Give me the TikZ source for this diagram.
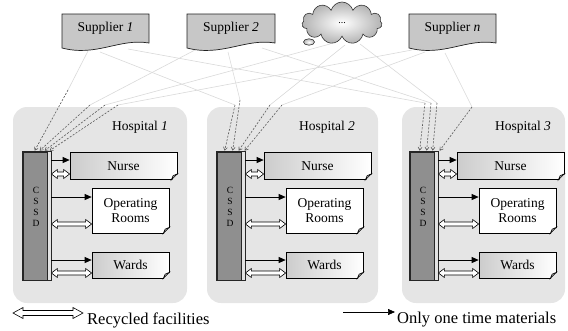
\documentclass[tikz,border=0pt]{standalone}
\usepackage{fontspec}
\setmainfont{Liberation Serif}
\usetikzlibrary{arrows.meta,calc,shapes.symbols}
\definecolor{panelgray}{gray}{0.90}
\definecolor{supgray}{gray}{0.78}
\definecolor{bargray}{gray}{0.56}
\newcommand\hollowarrow[5]{%
  \draw[line width=0.6pt,fill=white,line join=miter] (#1) -- ($(#1)+(#3,#4)$) -- ($(#1)+(#3,#5)$) -- ($(#2)+(-#3,#5)$) -- ($(#2)+(-#3,#4)$) -- (#2) -- ($(#2)+(-#3,-#4)$) -- ($(#2)+(-#3,-#5)$) -- ($(#1)+(#3,-#5)$) -- ($(#1)+(#3,-#4)$) -- cycle;}
\newcommand\foldcorner[1]{%
  \fill[panelgray] ($(#1.south east)+(0.8,0.8)$) -- ($(#1.south east)+(-6,0.8)$) -- ($(#1.south east)+(0.8,-6)$) -- cycle;
  \draw[line width=0.6pt,fill=gray!55] ($(#1.south east)+(-6,0)$) -- ($(#1.south east)+(0,-6)$) -- ($(#1.south east)+(-4.2,-4.2)$) -- cycle;}
\newcommand\supshape[2]{%
  \filldraw[fill=supgray,draw=gray!25!black,line width=0.7pt] (#1,14) -- (#2,14) -- (#2,43) .. controls (#2-30,38) and (#1+35,57) .. (#1,48) -- cycle;}
\begin{document}
\begin{tikzpicture}[x=1pt,y=-1pt,
  txt/.style={font=\fontsize{13.5}{15}\selectfont,inner sep=0},
  shadedbox/.style={draw=black,line width=0.7pt,left color=gray!40,right color=white,inner sep=0,font=\fontsize{13.5}{15}\selectfont},
  whitebox/.style={draw=black,line width=0.7pt,fill=white,inner sep=0,align=center,font=\fontsize{13.5}{15}\selectfont},
  barbox/.style={draw=black!85,line width=0.7pt,fill=bargray,minimum width=28,minimum height=128,inner sep=0},
  one/.style={line width=0.7pt,-{Triangle[length=7pt,width=6pt]}},
  feed/.style={gray!30,line width=0.6pt},
  feedend/.style={black!65,line width=0.6pt,dash pattern=on 2pt off 1.5pt,-{Straight Barb[length=3pt,width=4pt]}},
  legtxt/.style={anchor=west,font=\fontsize{16.5}{17}\selectfont,inner sep=0}
]
\useasboundingbox (0,0) rectangle (568,330);

% suppliers
\supshape{62}{149}
\supshape{187}{275}
\supshape{409}{496}
\node[txt] (s1) at (105.5,28) {Supplier \textit{1}};
\node[txt] (s2) at (231,28) {Supplier \textit{2}};
\node[txt] (sn) at (452.5,28) {Supplier \textit{n}};
\draw[gray!40!black,line width=0.6pt,inner color=white,outer color=gray!55] (309,42) ellipse (5.5 and 3.2);
\node[cloud,cloud puffs=11,aspect=2.0,draw=gray!40!black,line width=0.6pt,inner color=white,outer color=gray!60,minimum width=80,minimum height=42,inner sep=0,font=\fontsize{10}{10}\selectfont] (cl) at (342,23) {...};

% panels
\fill[panelgray,rounded corners=14] (13,107) rectangle (187,303);
\fill[panelgray,rounded corners=14] (207,107) rectangle (378,303);
\fill[panelgray,rounded corners=14] (402,107) rectangle (565,303);
\node[txt] (h1) at (140,127) {Hospital \textit{1}};
\node[txt] (h2) at (327,127) {Hospital \textit{2}};
\node[txt] (h3) at (523,127) {Hospital \textit{3}};

\foreach \i/\bx in {1/23,2/217,3/410}{
  \node[barbox] (c\i) at (\bx+14,216) {};
  \fill[gray!22] ($(c\i.north east)+(-4.5,0.4)$) rectangle ($(c\i.south east)+(-0.4,-0.4)$);
  \draw[black!85,line width=0.5pt] ($(c\i.north east)+(-4.5,0)$) -- ($(c\i.south east)+(-4.5,0)$);
  \draw[black!85,line width=0.7pt] (c\i.north west) rectangle (c\i.south east);
  \node[font=\fontsize{9.5}{11}\selectfont,align=center,inner sep=0] (ct\i) at (\bx+13,207) {C\\S\\S\\D};
  \node[shadedbox,minimum width=107,minimum height=27] (n\i) at (\bx+100.5,166) {Nurse};
  \node[whitebox,minimum width=77,minimum height=45] (o\i) at (\bx+107.5,210.5) {Operating\\Rooms};
  \node[shadedbox,minimum width=77,minimum height=26] (w\i) at (\bx+107.5,265) {Wards};
  \foldcorner{n\i}
  \foldcorner{o\i}
  \foldcorner{w\i}
  \draw[one] (c\i.east |- 0,160) -- (n\i.west |- 0,160);
  \draw[one] (c\i.east |- 0,197) -- (o\i.west |- 0,197);
  \draw[one] (c\i.east |- 0,260) -- (w\i.west |- 0,260);
  \coordinate (pa\i) at (c\i.east |- 0,174);
  \coordinate (pb\i) at (n\i.west |- 0,174);
  \coordinate (qa\i) at (c\i.east |- 0,224);
  \coordinate (qb\i) at (o\i.west |- 0,224);
  \coordinate (ra\i) at (c\i.east |- 0,273);
  \coordinate (rb\i) at (w\i.west |- 0,273);
  \hollowarrow{pa\i}{pb\i}{6}{4.5}{2}
  \hollowarrow{qa\i}{qb\i}{6}{4.5}{2}
  \hollowarrow{ra\i}{rb\i}{6}{4.5}{2}
}

% supply connectors
\foreach \sx/\sy/\wx/\wy/\h/\ex in {
  88/51/68/90/1/12, 195/50/90/105/1/17, 330/44/105/105/1/22, 412/50/118/105/1/27,
  100/52/235/105/2/8, 228/52/240/100/2/16, 345/45/270/105/2/22, 425/52/282/105/2/28,
  128/49/425/103/3/10, 262/48/431/103/3/17, 360/44/437/103/3/23, 445/53/472/107/3/30}{
  \coordinate (src) at (\sx,\sy);
  \coordinate (wp) at (\wx,\wy);
  \coordinate (dst) at ($(c\h.north west)+(\ex,-1)$);
  \draw[feed] (src) -- (wp);
  \draw[feedend] (wp) -- (dst);
}

% legend
\coordinate (la) at (13,313);
\coordinate (lb) at (83,313);
\hollowarrow{la}{lb}{10}{5.5}{2.5}
\node[legtxt] (lt1) at (87,320) {Recycled facilities};
\coordinate (lc) at (343,312);
\coordinate (ld) at (395,312);
\draw[one] (lc) -- (ld);
\node[legtxt] (lt2) at (397,320) {Only one time materials};
\end{tikzpicture}
\end{document}
